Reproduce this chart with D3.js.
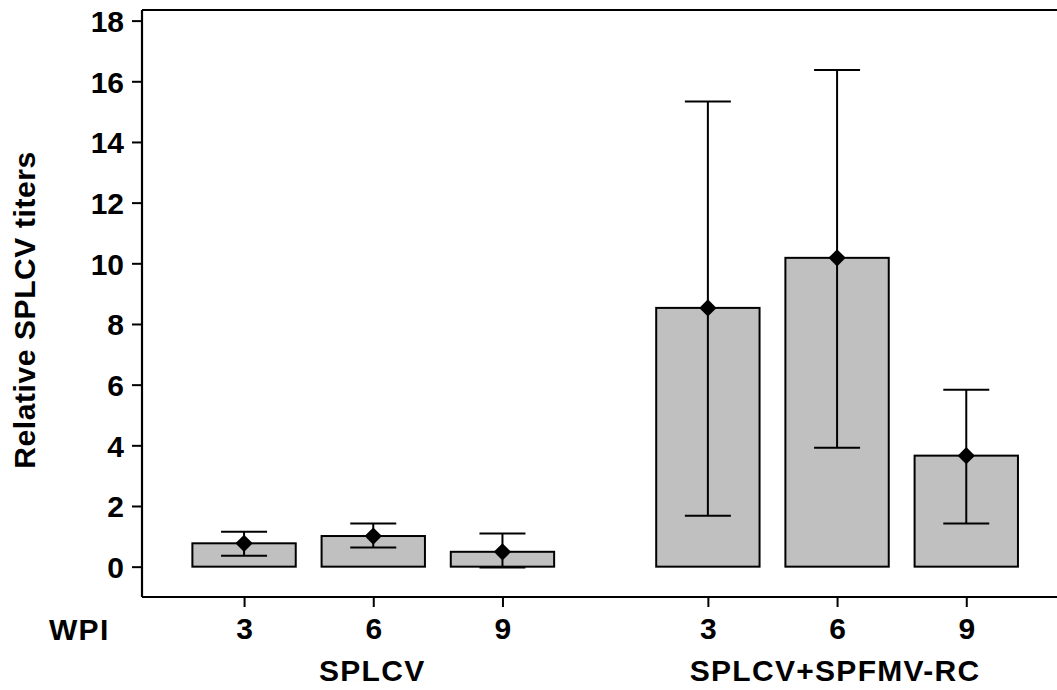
<!DOCTYPE html>
<html>
<head>
<meta charset="utf-8">
<script src="https://cdn.jsdelivr.net/npm/d3@7"></script>
<style>
  html, body { margin: 0; padding: 0; background: #fff; }
  svg text { font-family: "Liberation Sans", Arial, Helvetica, sans-serif; fill: #000; }
</style>
</head>
<body>
<svg id="chart" width="1057" height="690"></svg>
<script>
// Infection groups and sampling times (weeks post inoculation)
const groups = ["SPLCV", "SPLCV+SPFMV-RC"];
const wpi = [3, 6, 9];

// Mean relative titers with the upper / lower ends of the error bars
const splcvMean  = [0.77, 1.01, 0.49];
const splcvUpper = [1.15, 1.42, 1.09];
const splcvLower = [0.36, 0.63, -0.03];

const mixMean  = [8.53, 10.18, 3.66];
const mixUpper = [15.33, 16.37, 5.83];
const mixLower = [1.68, 3.92, 1.42];

const yTicks = [0, 2, 4, 6, 8, 10, 12, 14, 16, 18];

// Horizontal slot of each bar: three per group with a wider gap between groups
const slots = [[1, 2, 3], [4.59, 5.59, 6.59]];

const rows = [];
[[splcvMean, splcvUpper, splcvLower], [mixMean, mixUpper, mixLower]].forEach((s, g) => {
  wpi.forEach((w, i) => rows.push({
    group: groups[g], wpi: w, pos: slots[g][i],
    mean: s[0][i], upper: s[1][i], lower: s[2][i]
  }));
});

const svg = d3.select("#chart");
const plotL = 142, plotT = 10, plotB = 597, plotR = 1058;

const x = d3.scaleLinear().domain([0.21, 7.3]).range([plotL, plotR]);
const y = d3.scaleLinear().domain([-1, 18.35]).range([plotB, plotT]);

const barW = x(0.8) - x(0);
const capW = x(0.356) - x(0);

const fontSize = 30;
const fontFamily = "Liberation Sans, Arial, Helvetica, sans-serif";

// Frame: top border and x baseline run off the right edge
svg.append("line").attr("x1", plotL).attr("x2", plotR).attr("y1", plotT).attr("y2", plotT)
  .attr("stroke", "#000").attr("stroke-width", 2);

// Y axis
const yAxis = svg.append("g").attr("transform", `translate(${plotL},0)`)
  .call(d3.axisLeft(y).tickValues(yTicks).tickSize(10).tickPadding(8));
yAxis.select(".domain").attr("stroke-width", 2.2).attr("d", `M0,${plotT}V${plotB}`);
yAxis.selectAll(".tick line").attr("stroke-width", 2);
yAxis.selectAll(".tick text")
  .attr("font-size", fontSize).attr("font-family", fontFamily).attr("font-weight", "bold")
  .attr("dy", "0.36em");

// X axis with WPI tick marks under each bar
const xAxis = svg.append("g").attr("transform", `translate(0,${plotB})`)
  .call(d3.axisBottom(x).tickValues(rows.map(d => d.pos))
    .tickFormat((d, i) => rows[i].wpi).tickSize(10).tickPadding(11));
xAxis.select(".domain").attr("stroke-width", 2.2).attr("d", `M${plotL},0H${plotR}`);
xAxis.selectAll(".tick line").attr("stroke-width", 2);
xAxis.selectAll(".tick text")
  .attr("font-size", fontSize).attr("font-family", fontFamily).attr("font-weight", "bold");

// Bars
svg.append("g").selectAll("rect").data(rows).join("rect")
  .attr("x", d => x(d.pos) - barW / 2)
  .attr("y", d => y(d.mean))
  .attr("width", barW)
  .attr("height", d => y(0) - y(d.mean))
  .attr("fill", "#c0c0c0")
  .attr("stroke", "#000").attr("stroke-width", 2);

// Error bars
const err = svg.append("g").attr("stroke", "#000").attr("stroke-width", 2);
err.selectAll("line.stem").data(rows).join("line").attr("class", "stem")
  .attr("x1", d => x(d.pos)).attr("x2", d => x(d.pos))
  .attr("y1", d => y(d.upper)).attr("y2", d => y(d.lower));
err.selectAll("line.capU").data(rows).join("line").attr("class", "capU")
  .attr("x1", d => x(d.pos) - capW / 2).attr("x2", d => x(d.pos) + capW / 2)
  .attr("y1", d => y(d.upper)).attr("y2", d => y(d.upper));
err.selectAll("line.capL").data(rows).join("line").attr("class", "capL")
  .attr("x1", d => x(d.pos) - capW / 2).attr("x2", d => x(d.pos) + capW / 2)
  .attr("y1", d => y(d.lower)).attr("y2", d => y(d.lower));

// Mean markers
const diamond = d3.symbol().type(d3.symbolDiamond2).size(190);
svg.append("g").selectAll("path").data(rows).join("path")
  .attr("d", diamond)
  .attr("transform", d => `translate(${x(d.pos)},${y(d.mean)})`)
  .attr("fill", "#000");

// Text labels
const label = (txt, px, py, anchor, extra) => {
  const t = svg.append("text").text(txt)
    .attr("x", px).attr("y", py)
    .attr("text-anchor", anchor)
    .attr("font-size", fontSize)
    .attr("font-weight", "bold")
    .attr("letter-spacing", 1.3);
  if (extra) extra(t);
  return t;
};

label("WPI", 49, 640, "start");
groups.forEach((g, gi) => {
  const cx = x(d3.mean(slots[gi])) - (gi === 1 ? 2 : 1);
  label(g, cx, 681, "middle");
});

label("Relative SPLCV titers", 0, 0, "middle", t =>
  t.attr("transform", "translate(35,310) rotate(-90)").attr("letter-spacing", 0.6));
</script>
</body>
</html>
